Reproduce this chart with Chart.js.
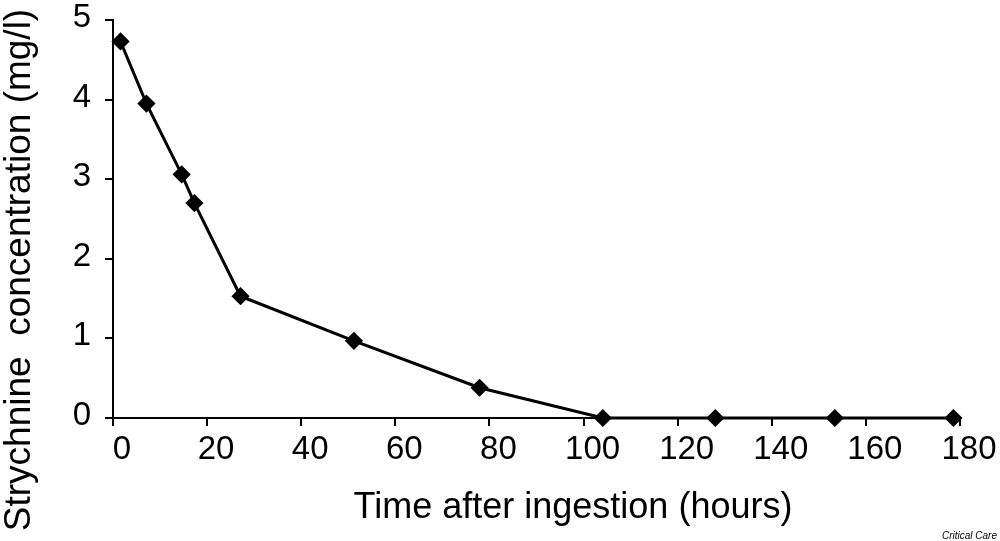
<!DOCTYPE html>
<html>
<head>
<meta charset="utf-8">
<script src="https://cdn.jsdelivr.net/npm/chart.js@4"></script>
<style>
    html, body { margin: 0; padding: 0; background: #fff; }
    #wrap { width: 1000px; height: 541px; position: relative; }
</style>
</head>
<body>
<div id="wrap"><canvas id="chart1"></canvas></div>
<script>
const chart1div = document.getElementById("chart1")

// hours after ingestion / strychnine concentration (mg/l)
const hours = [1.6, 7.1, 14.6, 17.3, 27.1, 51.2, 77.9, 104.1, 128.0, 153.4, 178.6]
const concentration = [4.73, 3.95, 3.06, 2.70, 1.53, 0.97, 0.38, 0, 0, 0, 0]
const xTicks = [0, 20, 40, 60, 80, 100, 120, 140, 160, 180]
const yTicks = [0, 1, 2, 3, 4, 5]
const xTitle = "Time after ingestion (hours)"
const yTitle = "Strychnine  concentration (mg/l)"

const font = "'Liberation Sans', Arial, sans-serif"

// axis titles sit off-centre in the original, so they are drawn here
const axisTitles = {
    id: "axisTitles",
    afterDraw(chart) {
        const ctx = chart.ctx
        ctx.save()
        ctx.fillStyle = "#000"
        ctx.textAlign = "center"
        ctx.textBaseline = "alphabetic"
        ctx.font = "36px " + font
        ctx.fillText(xTitle, 573, 518)
        ctx.translate(30, 270)
        ctx.rotate(-Math.PI / 2)
        ctx.font = "37px " + font
        ctx.fillText(yTitle, 0, 0)
        ctx.restore()

        ctx.save()
        ctx.font = "italic 10px " + font
        ctx.fillStyle = "#000"
        ctx.textAlign = "right"
        ctx.fillText("Critical Care", 997, 539)
        ctx.restore()
    }
}

new Chart(chart1div, {
    type: "scatter",
    data: {
        datasets: [{
            data: hours.map((h, i) => ({ x: h, y: concentration[i] })),
            showLine: true,
            borderColor: "#000",
            backgroundColor: "#000",
            borderWidth: 3,
            pointStyle: "rectRot",
            pointRadius: 7,
            pointHoverRadius: 7,
            clip: false
        }]
    },
    options: {
        responsive: true,
        maintainAspectRatio: false,
        animation: false,
        layout: { padding: { left: 0, right: 40, top: 20, bottom: 0 } },
        plugins: {
            legend: { display: false },
            tooltip: { enabled: false }
        },
        scales: {
            x: {
                type: "linear",
                min: 0,
                max: 180,
                afterBuildTicks: (s) => { s.ticks = xTicks.map(v => ({ value: v })) },
                afterFit: (s) => { s.height = 123; s.paddingLeft = 0; s.paddingRight = 0 },
                border: { display: true, color: "#000", width: 2 },
                grid: { drawOnChartArea: false, color: "#000", lineWidth: 2, tickLength: 8 },
                ticks: { color: "#000", font: { family: font, size: 33 }, padding: 4, labelOffset: 9, maxRotation: 0 }
            },
            y: {
                type: "linear",
                min: 0,
                max: 5,
                afterBuildTicks: (s) => { s.ticks = yTicks.map(v => ({ value: v })) },
                afterFit: (s) => { s.width = 113; s.paddingTop = 0; s.paddingBottom = 0 },
                border: { display: true, color: "#000", width: 2 },
                grid: { drawOnChartArea: false, color: "#000", lineWidth: 2, tickLength: 8 },
                ticks: { color: "#000", font: { family: font, size: 33 }, padding: 14, labelOffset: -2 }
            }
        }
    },
    plugins: [axisTitles]
});
</script>
</body>
</html>
